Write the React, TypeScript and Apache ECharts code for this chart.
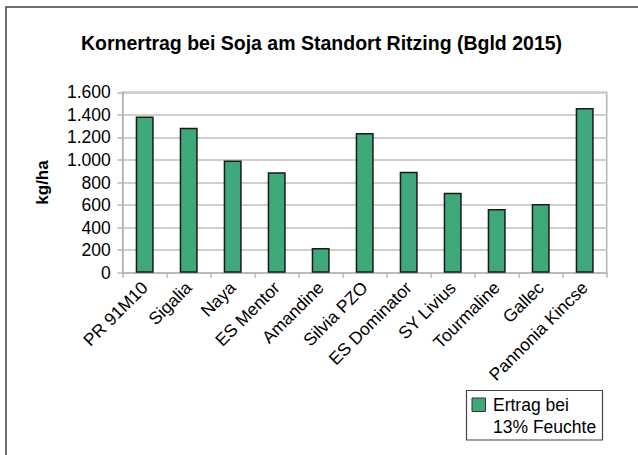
import React, { useEffect, useRef } from "react";
import * as echarts from "echarts";

const categories = [
  "PR 91M10",
  "Sigalia",
  "Naya",
  "ES Mentor",
  "Amandine",
  "Silvia PZO",
  "ES Dominator",
  "SY Livius",
  "Tourmaline",
  "Gallec",
  "Pannonia Kincse",
];
const yields = [1385, 1285, 995, 890, 220, 1240, 895, 710, 565, 610, 1460];
const seriesName = "Ertrag bei 13% Feuchte";
const legendLines = ["Ertrag bei", "13% Feuchte"];
const titleText = "Kornertrag bei Soja am Standort Ritzing (Bgld 2015)";
const yAxisTitle = "kg/ha";
const yMin = 0;
const yMax = 1600;
const yStep = 200;

const FONT = "'Liberation Sans', Arial, sans-serif";
const GREEN = "#3ea87a";

export default function App() {
  const ref = useRef<HTMLDivElement>(null);
  useEffect(() => {
    if (!ref.current) return;
    const chart = echarts.init(ref.current, undefined, { renderer: "svg" });
    chart.setOption({
      animation: false,
      backgroundColor: "#ffffff",
      textStyle: { fontFamily: FONT },
      title: {
        text: titleText,
        left: 81,
        top: 33,
        padding: 0,
        textStyle: { fontFamily: FONT, fontSize: 19.5, fontWeight: "bold", color: "#000" },
      },
      grid: {
        left: 122.7,
        right: 31.3,
        top: 92.3,
        bottom: 182.3,
        show: true,
        borderColor: "#b4b4b4",
        borderWidth: 1.5,
        containLabel: false,
      },
      xAxis: {
        type: "category",
        data: categories,
        boundaryGap: true,
        axisLine: { show: true, lineStyle: { color: "#b4b4b4", width: 1.5 } },
        axisTick: { show: true, alignWithLabel: false, length: 5, inside: false, lineStyle: { color: "#b4b4b4", width: 1.5 } },
        axisLabel: {
          interval: 0,
          rotate: 45,
          margin: 12,
          fontFamily: FONT,
          fontSize: 17.5,
          color: "#000",
        },
        splitLine: { show: false },
      },
      yAxis: {
        type: "value",
        min: yMin,
        max: yMax,
        interval: yStep,
        name: yAxisTitle,
        nameLocation: "middle",
        nameRotate: 90,
        nameGap: 72,
        nameTextStyle: { fontFamily: FONT, fontSize: 17, fontWeight: "bold", color: "#000" },
        axisLine: { show: true, lineStyle: { color: "#b4b4b4", width: 1.5 } },
        axisTick: { show: true, length: 5, lineStyle: { color: "#b4b4b4", width: 1.5 } },
        axisLabel: {
          margin: 12,
          fontFamily: FONT,
          fontSize: 17.5,
          color: "#000",
          formatter: (v: number) => String(v).replace(/\B(?=(\d{3})+(?!\d))/g, "."),
        },
        splitLine: { show: true, lineStyle: { color: "#cfcfcf", width: 2 } },
      },
      series: [
        {
          name: seriesName,
          type: "bar",
          data: yields,
          barWidth: 18,
          itemStyle: { color: GREEN, borderColor: "#1a1a1a", borderWidth: 1.5 },
        },
      ],
      graphic: [
        {
          type: "rect",
          shape: { x: 6, y: 7, width: 660, height: 480 },
          style: { fill: "none", stroke: "#404040", lineWidth: 1.5 },
          silent: true,
        },
        {
          type: "rect",
          shape: { x: 466.5, y: 390.5, width: 136, height: 49.5 },
          style: { fill: "#fff", stroke: "#444", lineWidth: 1.2 },
        },
        {
          type: "rect",
          shape: { x: 472, y: 398, width: 13.5, height: 13.5 },
          style: { fill: GREEN, stroke: "#333", lineWidth: 1 },
        },
        {
          type: "text",
          x: 493,
          y: 405,
          style: { text: legendLines[0], font: `17.5px ${FONT}`, fill: "#000", verticalAlign: "middle" },
        },
        {
          type: "text",
          x: 493,
          y: 426.5,
          style: { text: legendLines[1], font: `17.5px ${FONT}`, fill: "#000", verticalAlign: "middle" },
        },
      ],
    });
    return () => chart.dispose();
  }, []);
  return (
    <div
      ref={ref}
      style={{ position: "absolute", left: 0, top: 0, width: 638, height: 455 }}
    />
  );
}
